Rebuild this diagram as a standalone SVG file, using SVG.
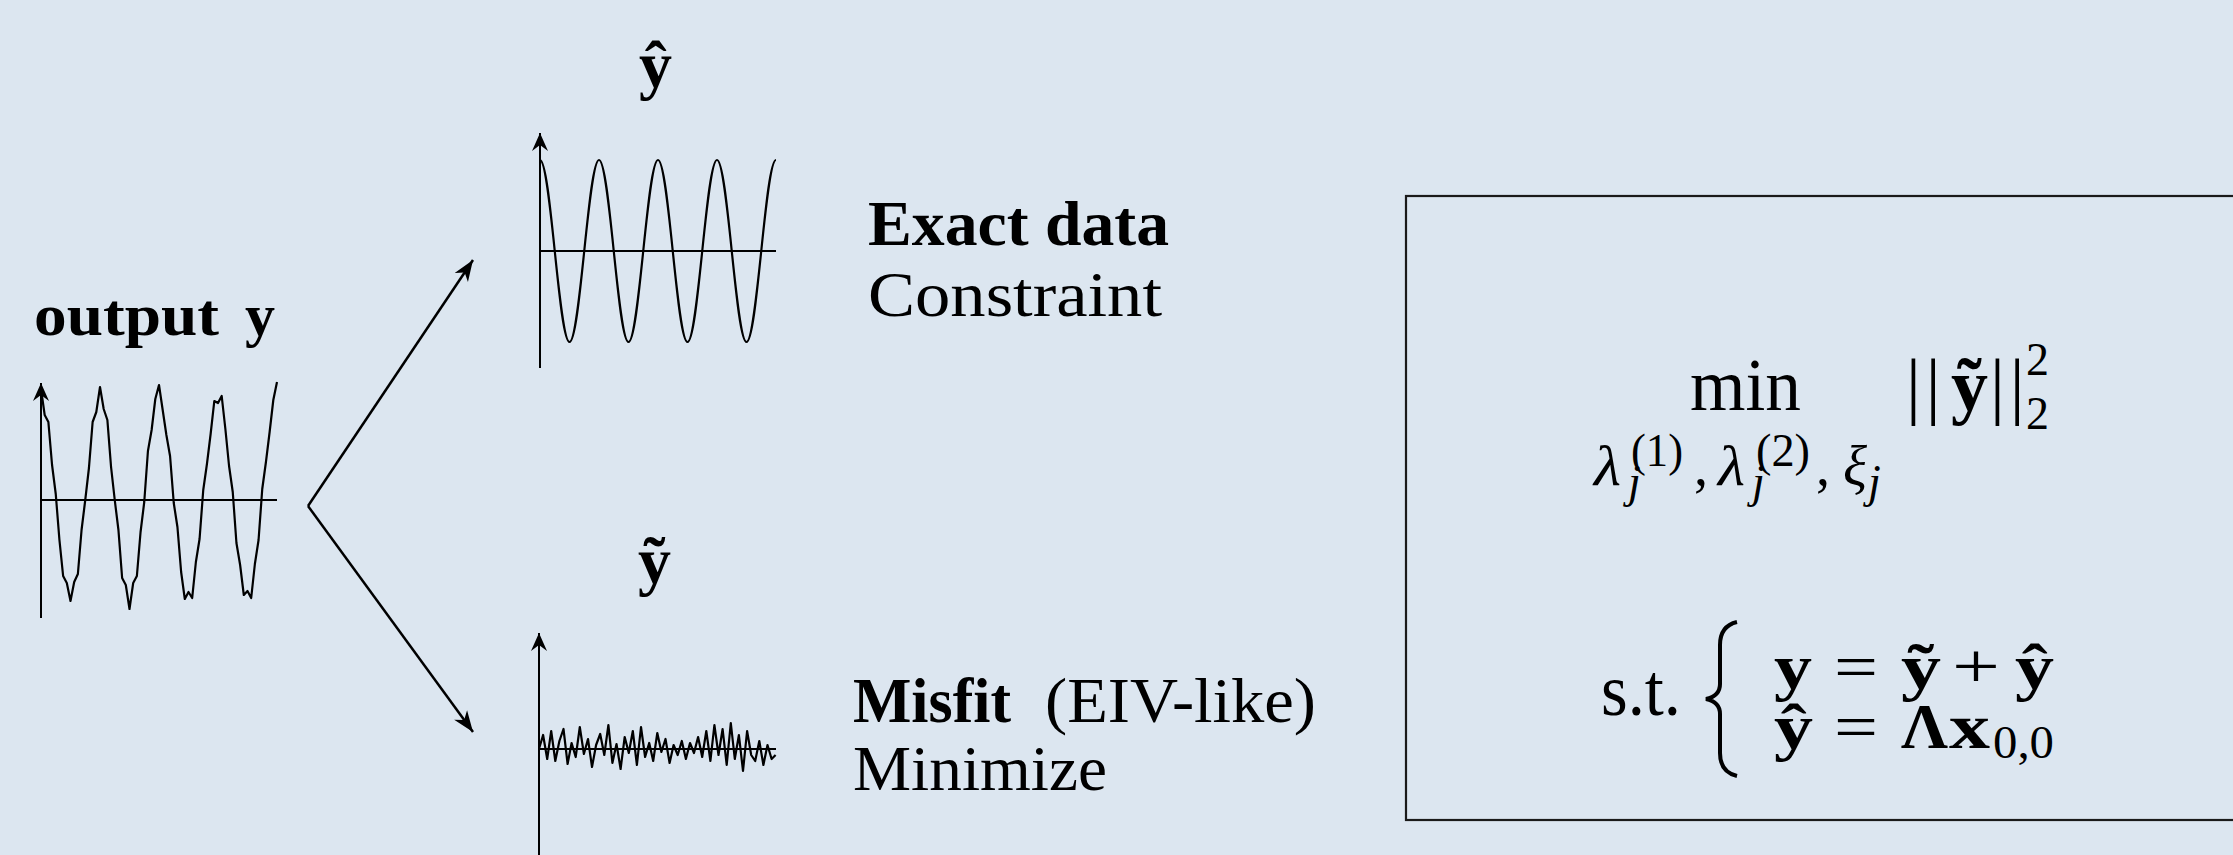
<svg xmlns="http://www.w3.org/2000/svg" width="2233" height="855" viewBox="0 0 2233 855">
<style>
text{font-family:"Liberation Serif","DejaVu Serif",serif;fill:#000}
.b{font-weight:bold}
.i{font-style:italic}
.lbl{font-size:64px}
.ax{fill:none;stroke:#000;stroke-width:2}
.sig{fill:none;stroke:#000;stroke-width:2.2;stroke-linejoin:round}
.conn{fill:none;stroke:#000;stroke-width:2.5}
.m{font-size:74px}
.e{font-size:63px}
.s{font-size:56px}
.ss{font-size:46px}
</style>
<defs>
<marker id="ah" markerUnits="userSpaceOnUse" markerWidth="26" markerHeight="22" viewBox="-23 -11 26 22" refX="0" refY="0" orient="auto"><path d="M0,0 L-21,-8 L-15,0 L-21,8 Z" fill="#000"/></marker>
<marker id="axh" markerUnits="userSpaceOnUse" markerWidth="22" markerHeight="20" viewBox="-20 -10 22 20" refX="0" refY="0" orient="auto"><path d="M0,0 L-18,-8 L-12,0 L-18,8 Z" fill="#000"/></marker>
</defs>
<rect width="2233" height="855" fill="#dce6f0"/>

<g id="output">
<text class="b" x="34" y="335" font-size="60" textLength="185" lengthAdjust="spacingAndGlyphs">output</text>
<text class="b" x="245" y="335" font-size="60">y</text>
<line class="ax" x1="41" y1="618" x2="41" y2="383" marker-end="url(#axh)"/>
<line class="ax" x1="41" y1="500" x2="277" y2="500"/>
<polyline class="sig" points="41,389 44.69,415 48.38,422 52.06,465 55.75,494 59.44,540 63.13,576 66.81,583 70.5,601 74.19,582 77.88,574 81.56,530 85.25,500 88.94,468 92.63,422 96.31,412 100,387 103.69,409 107.38,420 111.06,467 114.75,500 118.44,530 122.13,578 125.81,585 129.5,609 133.19,583 136.88,576 140.56,532 144.25,502 147.94,451 151.63,430 155.31,399 159,385 162.69,410 166.38,435 170.06,456 173.75,503 177.44,527 181.13,572 184.81,599 188.5,592 192.19,598 195.88,562 199.56,539 203.25,490 206.94,464 210.63,434 214.31,401 218,403 221.69,396 225.38,429 229.06,466 232.75,492 236.44,543 240.13,565 243.81,595 247.5,591 251.19,598 254.88,564 258.56,540 262.25,489 265.94,462 269.63,432 273.31,400 277,382"/>
</g>

<g id="exact">
<text class="b" x="639" y="87" font-size="66">ŷ</text>
<line class="ax" x1="540" y1="368" x2="540" y2="133" marker-end="url(#axh)"/>
<line class="ax" x1="540" y1="251" x2="776" y2="251"/>
<path class="sig" d="M540,160 C550.72,160 558.78,342 569.5,342 C580.22,342 588.28,160 599,160 C609.72,160 617.78,342 628.5,342 C639.22,342 647.28,160 658,160 C668.72,160 676.78,342 687.5,342 C698.22,342 706.28,160 717,160 C727.72,160 735.78,342 746.5,342 C757.22,342 765.28,160 776,160"/>
<text class="b lbl" x="868" y="245" textLength="301" lengthAdjust="spacingAndGlyphs">Exact data</text>
<text class="lbl" x="868" y="316" textLength="294" lengthAdjust="spacingAndGlyphs">Constraint</text>
</g>

<g id="misfit">
<text class="b" x="638" y="583" font-size="66">ỹ</text>
<line class="ax" x1="539" y1="860" x2="539" y2="633" marker-end="url(#axh)"/>
<line class="ax" x1="539" y1="749" x2="776" y2="749"/>
<polyline class="sig" points="539,749 543.1,735 547.2,759 551.2,731 555.3,761 559.4,741 563.5,729 567.6,764 571.6,743 575.7,757 579.8,727 583.9,754 588,739 592,767 596.1,745 600.2,734 604.3,755 608.4,725 612.4,763 616.5,744 620.6,769 624.7,737 628.8,753 632.8,731 636.9,765 641,727 645.1,757 649.2,743 653.2,761 657.3,733 661.4,752 665.5,739 669.6,763 673.6,745 677.7,755 681.8,741 685.9,759 690,743 694,753 698.1,737 702.2,757 706.3,731 710.4,761 714.4,725 718.5,755 722.6,729 726.7,765 730.8,723 734.8,759 738.9,735 743,771 747.1,731 751.2,755 755.2,761 759.3,741 763.4,765 767.5,745 771.6,759 775.6,755"/>
<text class="b lbl" x="853" y="722" textLength="158" lengthAdjust="spacingAndGlyphs">Misfit</text>
<text class="lbl" x="1045" y="722" textLength="271" lengthAdjust="spacingAndGlyphs">(EIV-like)</text>
<text class="lbl" x="853" y="790" textLength="254" lengthAdjust="spacingAndGlyphs">Minimize</text>
</g>

<g id="connectors">
<line class="conn" x1="308" y1="506" x2="473" y2="260" marker-end="url(#ah)"/>
<line class="conn" x1="308" y1="506" x2="473" y2="732" marker-end="url(#ah)"/>
</g>

<g id="formula">
<rect x="1406" y="196" width="900" height="624" fill="none" stroke="#1a1a1a" stroke-width="2.2"/>
<text class="m" x="1690" y="410" textLength="111" lengthAdjust="spacingAndGlyphs">min</text>
<text class="s i" x="1594" y="485" textLength="27" lengthAdjust="spacingAndGlyphs">λ</text>
<text class="ss" x="1631" y="466" textLength="52" lengthAdjust="spacingAndGlyphs">(1)</text>
<text class="ss i" x="1628" y="497">j</text>
<text class="s" x="1694" y="485">,</text>
<text class="s i" x="1718" y="485" textLength="27" lengthAdjust="spacingAndGlyphs">λ</text>
<text class="ss" x="1756" y="466" textLength="54" lengthAdjust="spacingAndGlyphs">(2)</text>
<text class="ss i" x="1752" y="497">j</text>
<text class="s" x="1816" y="485">,</text>
<text class="s i" x="1843" y="485">ξ</text>
<text class="ss i" x="1868" y="497">j</text>
<text class="m" x="1906" y="410" letter-spacing="5">||</text>
<text class="m b" x="1951" y="410">ỹ</text>
<text class="m" x="1990" y="410" letter-spacing="5">||</text>
<text class="ss" x="2026" y="375">2</text>
<text class="ss" x="2026" y="429">2</text>
<text class="m" x="1601" y="715" textLength="80" lengthAdjust="spacingAndGlyphs">s.t.</text>
<path d="M1737,622 Q1720,626 1720,645 L1720,684 Q1720,696 1706,699 Q1720,702 1720,714 L1720,753 Q1720,772 1737,776" fill="none" stroke="#000" stroke-width="4"/>
<text class="e b" x="1774" y="688" textLength="38" lengthAdjust="spacingAndGlyphs">y</text>
<text class="e" x="1834" y="688" textLength="44" lengthAdjust="spacingAndGlyphs">=</text>
<text class="e b" x="1901" y="688" textLength="40" lengthAdjust="spacingAndGlyphs">ỹ</text>
<text class="e" x="1952" y="688" textLength="48" lengthAdjust="spacingAndGlyphs">+</text>
<text class="e b" x="2015" y="688" textLength="39" lengthAdjust="spacingAndGlyphs">ŷ</text>
<text class="e b" x="1774" y="748" textLength="39" lengthAdjust="spacingAndGlyphs">ŷ</text>
<text class="e" x="1834" y="748" textLength="44" lengthAdjust="spacingAndGlyphs">=</text>
<text class="e b" x="1901" y="748" textLength="47" lengthAdjust="spacingAndGlyphs">Λ</text>
<text class="e b" x="1949" y="748" textLength="41" lengthAdjust="spacingAndGlyphs">x</text>
<text x="1993" y="758" font-size="47" textLength="61" lengthAdjust="spacingAndGlyphs">0,0</text>
</g>
</svg>
